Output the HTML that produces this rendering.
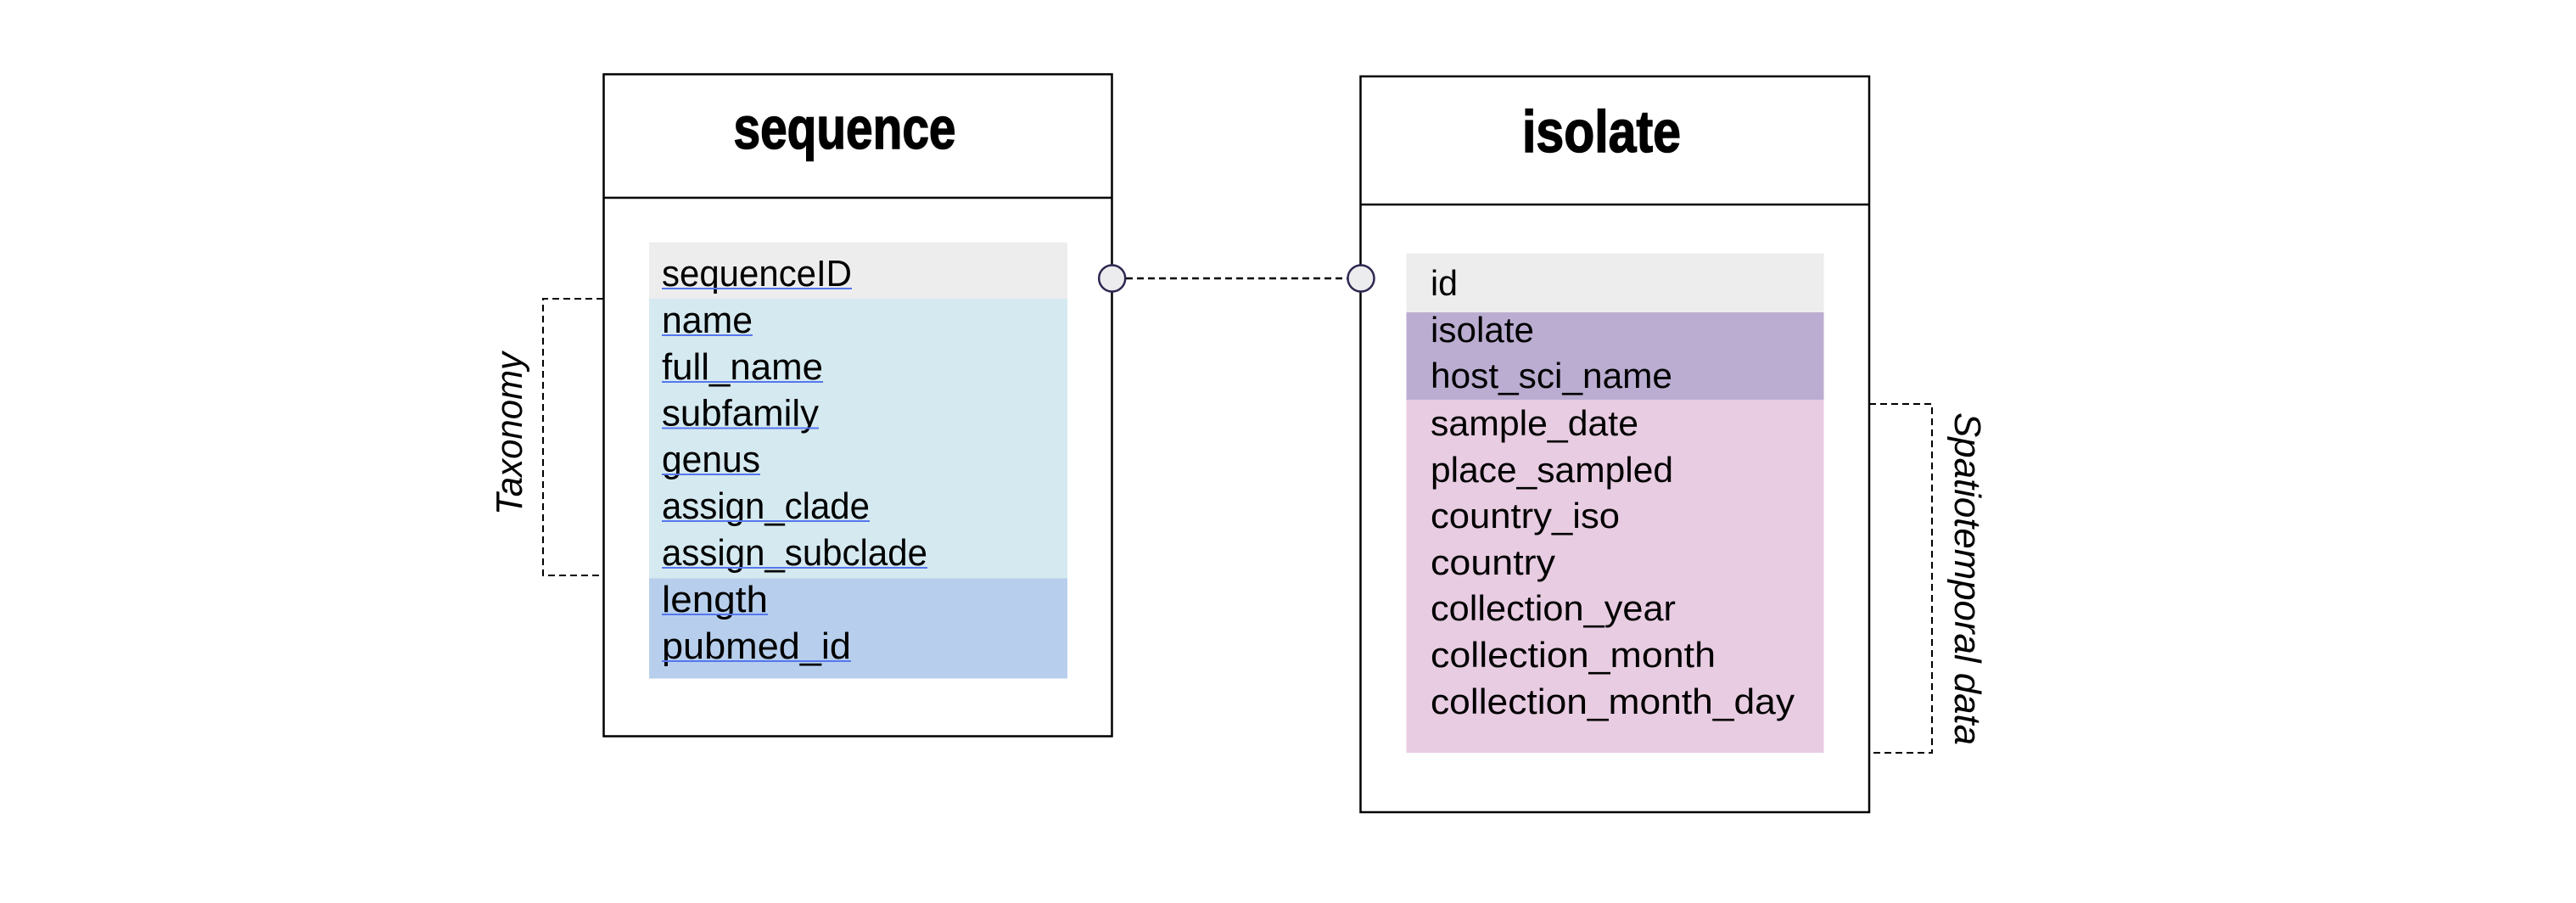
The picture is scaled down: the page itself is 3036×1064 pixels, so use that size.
<!DOCTYPE html>
<html><head><meta charset="utf-8"><style>
html,body{margin:0;padding:0;background:#fff;}
svg{display:block;}
text{font-family:"Liberation Sans",sans-serif;fill:#000;}
</style></head><body>
<svg width="3036" height="1064" viewBox="0 0 3036 1064" xmlns="http://www.w3.org/2000/svg">
<rect width="3036" height="1064" fill="#fff"/>
<!-- sequence table -->
<rect x="711.5" y="87.5" width="599" height="780" fill="#fff" stroke="#000" stroke-width="2.5"/>
<line x1="711.5" y1="233" x2="1310.5" y2="233" stroke="#000" stroke-width="2.5"/>
<text x="864.5" y="175" font-size="70" font-weight="bold" stroke="#000" stroke-width="1.5" textLength="262" lengthAdjust="spacingAndGlyphs">sequence</text>
<rect x="765" y="285.5" width="493" height="67" fill="#ededed"/>
<rect x="765" y="352" width="493" height="329.5" fill="#d5e9f0"/>
<rect x="765" y="681.5" width="493" height="118" fill="#b7cfec"/>
<g font-size="44">
<text x="780" y="337" textLength="224" lengthAdjust="spacingAndGlyphs">sequenceID</text>
<text x="780" y="392" textLength="107" lengthAdjust="spacingAndGlyphs">name</text>
<text x="780" y="447" textLength="190" lengthAdjust="spacingAndGlyphs">full_name</text>
<text x="780" y="501.5" textLength="185" lengthAdjust="spacingAndGlyphs">subfamily</text>
<text x="780" y="556" textLength="116" lengthAdjust="spacingAndGlyphs">genus</text>
<text x="780" y="611" textLength="245" lengthAdjust="spacingAndGlyphs">assign_clade</text>
<text x="780" y="666" textLength="313" lengthAdjust="spacingAndGlyphs">assign_subclade</text>
<text x="780" y="721" textLength="125" lengthAdjust="spacingAndGlyphs">length</text>
<text x="780" y="776" textLength="223" lengthAdjust="spacingAndGlyphs">pubmed_id</text>
</g>
<g stroke="#5577ee" stroke-width="2">
<line x1="780" y1="340" x2="1004" y2="340"/>
<line x1="780" y1="395" x2="887" y2="395"/>
<line x1="780" y1="450" x2="970" y2="450"/>
<line x1="780" y1="504.5" x2="965" y2="504.5"/>
<line x1="780" y1="559" x2="896" y2="559"/>
<line x1="780" y1="614" x2="1025" y2="614"/>
<line x1="780" y1="669" x2="1093" y2="669"/>
<line x1="780" y1="724" x2="905" y2="724"/>
<line x1="780" y1="779" x2="1003" y2="779"/>
</g>
<!-- taxonomy bracket -->
<polyline points="711,352 640,352 640,678 711,678" fill="none" stroke="#000" stroke-width="2" stroke-dasharray="8,5"/>
<text transform="translate(615,511) rotate(-90)" font-size="44" font-style="italic" text-anchor="middle" textLength="192" lengthAdjust="spacingAndGlyphs">Taxonomy</text>
<!-- isolate table -->
<rect x="1603.5" y="90" width="599.5" height="867" fill="#fff" stroke="#000" stroke-width="2.5"/>
<line x1="1603.5" y1="241" x2="2203" y2="241" stroke="#000" stroke-width="2.5"/>
<text x="1794" y="179" font-size="70" font-weight="bold" stroke="#000" stroke-width="1.5" textLength="187" lengthAdjust="spacingAndGlyphs">isolate</text>
<rect x="1657.5" y="298.5" width="492" height="69.5" fill="#ededed"/>
<rect x="1657.5" y="368" width="492" height="103" fill="#bbadd1"/>
<rect x="1657.5" y="471" width="492" height="416" fill="#e8cce2"/>
<g font-size="42">
<text x="1686" y="348" textLength="32" lengthAdjust="spacingAndGlyphs">id</text>
<text x="1686" y="403" textLength="122" lengthAdjust="spacingAndGlyphs">isolate</text>
<text x="1686" y="457" textLength="285" lengthAdjust="spacingAndGlyphs">host_sci_name</text>
<text x="1686" y="513" textLength="245" lengthAdjust="spacingAndGlyphs">sample_date</text>
<text x="1686" y="568" textLength="286" lengthAdjust="spacingAndGlyphs">place_sampled</text>
<text x="1686" y="622" textLength="223" lengthAdjust="spacingAndGlyphs">country_iso</text>
<text x="1686" y="677" textLength="147" lengthAdjust="spacingAndGlyphs">country</text>
<text x="1686" y="731" textLength="289" lengthAdjust="spacingAndGlyphs">collection_year</text>
<text x="1686" y="786" textLength="336" lengthAdjust="spacingAndGlyphs">collection_month</text>
<text x="1686" y="841" textLength="429" lengthAdjust="spacingAndGlyphs">collection_month_day</text>
</g>
<!-- spatiotemporal bracket -->
<polyline points="2203,476 2277,476 2277,887 2203,887" fill="none" stroke="#000" stroke-width="2" stroke-dasharray="8,5"/>
<text transform="translate(2304,682) rotate(90)" font-size="44" font-style="italic" text-anchor="middle" textLength="392" lengthAdjust="spacingAndGlyphs">Spatiotemporal data</text>
<!-- connector -->
<line x1="1327" y1="328" x2="1588" y2="328" stroke="#000" stroke-width="2.5" stroke-dasharray="8,5"/>
<circle cx="1310.7" cy="328" r="15.5" fill="#ececee" stroke="#2e2750" stroke-width="2.5"/>
<circle cx="1604" cy="328" r="15.5" fill="#ececee" stroke="#2e2750" stroke-width="2.5"/>
</svg>
</body></html>
